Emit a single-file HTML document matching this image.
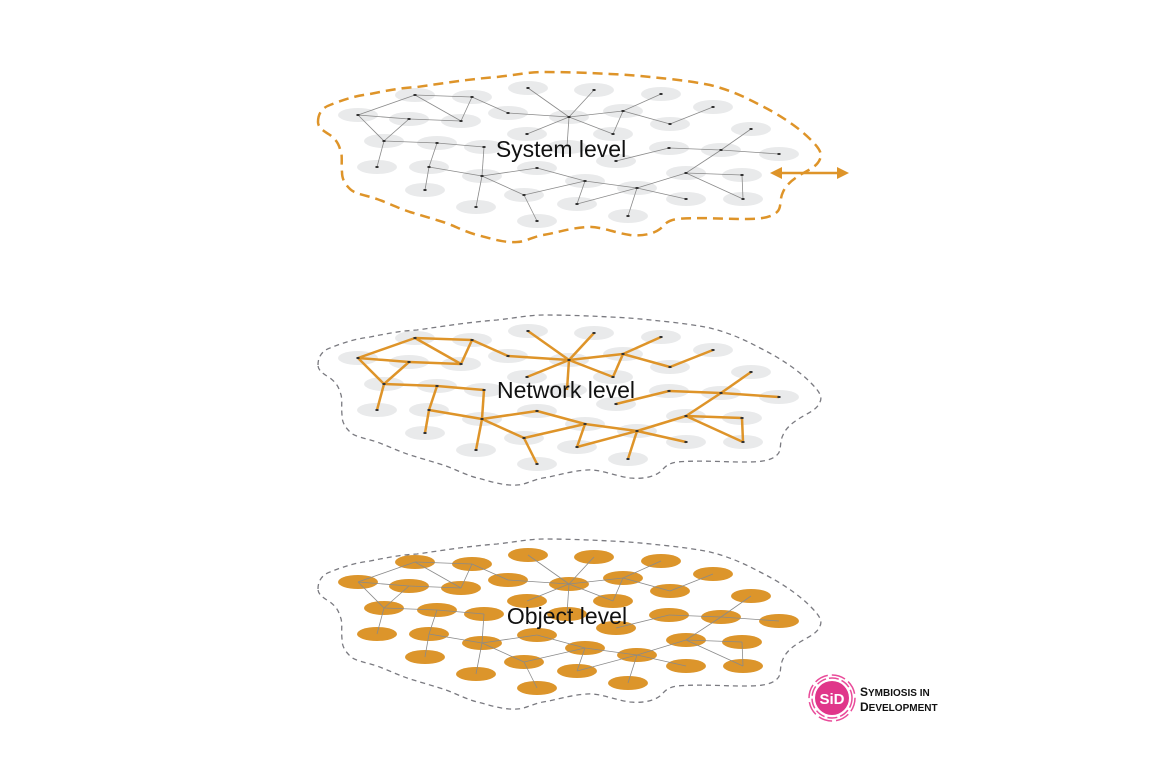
<!DOCTYPE html>
<html><head><meta charset="utf-8"><style>
html,body{margin:0;padding:0;background:#fff;}
svg{display:block;}
text{font-family:"Liberation Sans",sans-serif;}
</style></head><body>
<svg width="1170" height="780" viewBox="0 0 1170 780" xmlns="http://www.w3.org/2000/svg">
<defs>
<path id="O" d="M318,365 C318,355 324,350 330,348 C345,342 355,339 370,337 C390,333 400,331 417,330 C445,326 470,322 497,320 C515,318 530,315 543,315 C570,315 590,316 610,317 C635,318 650,320 670,322 C688,324 700,326 710,328 C730,333 745,340 760,348 C780,358 798,370 810,382 C818,390 823,396 820,402 C817,410 808,413 800,418 C792,423 786,428 783,435 C779,443 782,451 777,455 C770,462 755,462 743,462 C720,462 700,460 677,462 C665,464 664,469 660,472 C652,478 640,479 630,478 C615,476 600,469 587,470 C570,471 556,476 543,478 C532,480 525,485 517,485 C503,486 490,481 477,478 C463,474 453,468 443,465 C430,461 420,458 410,455 C398,451 388,446 377,442 C365,438 355,437 350,432 C343,425 342,420 342,415 C341,405 343,398 340,392 C338,385 335,382 330,378 C322,373 318,370 318,365 Z"/>
<g id="E">
<line x1="358" y1="358" x2="415" y2="338"/><line x1="415" y1="338" x2="472" y2="340"/><line x1="415" y1="338" x2="461" y2="364"/><line x1="472" y1="340" x2="461" y2="364"/><line x1="472" y1="340" x2="508" y2="356"/>
<line x1="358" y1="358" x2="409" y2="362"/><line x1="409" y1="362" x2="461" y2="364"/><line x1="358" y1="358" x2="384" y2="384"/><line x1="409" y1="362" x2="384" y2="384"/>
<line x1="508" y1="356" x2="569" y2="360"/><line x1="528" y1="331" x2="569" y2="360"/><line x1="594" y1="333" x2="569" y2="360"/><line x1="569" y1="360" x2="623" y2="354"/><line x1="569" y1="360" x2="527" y2="377"/><line x1="569" y1="360" x2="613" y2="377"/><line x1="569" y1="360" x2="567" y2="390"/>
<line x1="623" y1="354" x2="661" y2="337"/><line x1="623" y1="354" x2="613" y2="377"/><line x1="623" y1="354" x2="670" y2="367"/><line x1="670" y1="367" x2="713" y2="350"/>
<line x1="384" y1="384" x2="437" y2="386"/><line x1="437" y1="386" x2="484" y2="390"/><line x1="437" y1="386" x2="429" y2="410"/><line x1="384" y1="384" x2="377" y2="410"/>
<line x1="484" y1="390" x2="482" y2="419"/><line x1="429" y1="410" x2="482" y2="419"/><line x1="429" y1="410" x2="425" y2="433"/>
<line x1="482" y1="419" x2="537" y2="411"/><line x1="482" y1="419" x2="524" y2="438"/><line x1="482" y1="419" x2="476" y2="450"/>
<line x1="537" y1="411" x2="585" y2="424"/><line x1="524" y1="438" x2="585" y2="424"/><line x1="524" y1="438" x2="537" y2="464"/>
<line x1="585" y1="424" x2="637" y2="431"/><line x1="585" y1="424" x2="577" y2="447"/><line x1="577" y1="447" x2="637" y2="431"/><line x1="637" y1="431" x2="628" y2="459"/><line x1="637" y1="431" x2="686" y2="442"/><line x1="637" y1="431" x2="686" y2="416"/>
<line x1="686" y1="416" x2="721" y2="393"/><line x1="686" y1="416" x2="742" y2="418"/><line x1="686" y1="416" x2="743" y2="442"/><line x1="742" y1="418" x2="743" y2="442"/>
<line x1="721" y1="393" x2="751" y2="372"/><line x1="721" y1="393" x2="779" y2="397"/><line x1="669" y1="391" x2="721" y2="393"/><line x1="616" y1="404" x2="669" y2="391"/>
</g>
<g id="N">
<ellipse cx="415" cy="338" rx="20" ry="7"/><ellipse cx="472" cy="340" rx="20" ry="7"/><ellipse cx="358" cy="358" rx="20" ry="7"/><ellipse cx="409" cy="362" rx="20" ry="7"/><ellipse cx="461" cy="364" rx="20" ry="7"/><ellipse cx="508" cy="356" rx="20" ry="7"/><ellipse cx="528" cy="331" rx="20" ry="7"/><ellipse cx="594" cy="333" rx="20" ry="7"/><ellipse cx="569" cy="360" rx="20" ry="7"/><ellipse cx="623" cy="354" rx="20" ry="7"/><ellipse cx="661" cy="337" rx="20" ry="7"/><ellipse cx="713" cy="350" rx="20" ry="7"/><ellipse cx="670" cy="367" rx="20" ry="7"/><ellipse cx="527" cy="377" rx="20" ry="7"/><ellipse cx="613" cy="377" rx="20" ry="7"/><ellipse cx="384" cy="384" rx="20" ry="7"/><ellipse cx="437" cy="386" rx="20" ry="7"/><ellipse cx="484" cy="390" rx="20" ry="7"/><ellipse cx="567" cy="390" rx="20" ry="7"/><ellipse cx="616" cy="404" rx="20" ry="7"/><ellipse cx="669" cy="391" rx="20" ry="7"/><ellipse cx="721" cy="393" rx="20" ry="7"/><ellipse cx="751" cy="372" rx="20" ry="7"/><ellipse cx="779" cy="397" rx="20" ry="7"/><ellipse cx="377" cy="410" rx="20" ry="7"/><ellipse cx="429" cy="410" rx="20" ry="7"/><ellipse cx="482" cy="419" rx="20" ry="7"/><ellipse cx="537" cy="411" rx="20" ry="7"/><ellipse cx="585" cy="424" rx="20" ry="7"/><ellipse cx="637" cy="431" rx="20" ry="7"/><ellipse cx="686" cy="416" rx="20" ry="7"/><ellipse cx="742" cy="418" rx="20" ry="7"/><ellipse cx="425" cy="433" rx="20" ry="7"/><ellipse cx="524" cy="438" rx="20" ry="7"/><ellipse cx="686" cy="442" rx="20" ry="7"/><ellipse cx="743" cy="442" rx="20" ry="7"/><ellipse cx="476" cy="450" rx="20" ry="7"/><ellipse cx="577" cy="447" rx="20" ry="7"/><ellipse cx="628" cy="459" rx="20" ry="7"/><ellipse cx="537" cy="464" rx="20" ry="7"/>
</g>
<g id="D">
<rect x="413.5" y="337" width="3" height="2"/><rect x="470.5" y="339" width="3" height="2"/><rect x="356.5" y="357" width="3" height="2"/><rect x="407.5" y="361" width="3" height="2"/><rect x="459.5" y="363" width="3" height="2"/><rect x="506.5" y="355" width="3" height="2"/><rect x="526.5" y="330" width="3" height="2"/><rect x="592.5" y="332" width="3" height="2"/><rect x="567.5" y="359" width="3" height="2"/><rect x="621.5" y="353" width="3" height="2"/><rect x="659.5" y="336" width="3" height="2"/><rect x="711.5" y="349" width="3" height="2"/><rect x="668.5" y="366" width="3" height="2"/><rect x="525.5" y="376" width="3" height="2"/><rect x="611.5" y="376" width="3" height="2"/><rect x="382.5" y="383" width="3" height="2"/><rect x="435.5" y="385" width="3" height="2"/><rect x="482.5" y="389" width="3" height="2"/><rect x="614.5" y="403" width="3" height="2"/><rect x="667.5" y="390" width="3" height="2"/><rect x="719.5" y="392" width="3" height="2"/><rect x="749.5" y="371" width="3" height="2"/><rect x="777.5" y="396" width="3" height="2"/><rect x="375.5" y="409" width="3" height="2"/><rect x="427.5" y="409" width="3" height="2"/><rect x="480.5" y="418" width="3" height="2"/><rect x="535.5" y="410" width="3" height="2"/><rect x="583.5" y="423" width="3" height="2"/><rect x="635.5" y="430" width="3" height="2"/><rect x="684.5" y="415" width="3" height="2"/><rect x="740.5" y="417" width="3" height="2"/><rect x="423.5" y="432" width="3" height="2"/><rect x="522.5" y="437" width="3" height="2"/><rect x="684.5" y="441" width="3" height="2"/><rect x="741.5" y="441" width="3" height="2"/><rect x="474.5" y="449" width="3" height="2"/><rect x="575.5" y="446" width="3" height="2"/><rect x="626.5" y="458" width="3" height="2"/><rect x="535.5" y="463" width="3" height="2"/>
</g>
</defs>

<g transform="translate(0,-243)">
<use href="#N" fill="#e9eaeb"/>
<use href="#E" stroke="#8a8a8a" stroke-width="0.8"/>
<use href="#D" fill="#333"/>
<use href="#O" fill="none" stroke="#de9429" stroke-width="2.5" stroke-dasharray="10,6"/>
</g>
<text x="561" y="157" font-size="23" text-anchor="middle" fill="#111">System level</text>
<line x1="778" y1="173" x2="840" y2="173" stroke="#de9429" stroke-width="2.5"/>
<polygon points="770,173 782,167 782,179" fill="#de9429"/>
<polygon points="849,173 837,167 837,179" fill="#de9429"/>

<use href="#N" fill="#e9eaeb"/>
<use href="#E" stroke="#de9429" stroke-width="2.5"/>
<use href="#D" fill="#333"/>
<use href="#O" fill="none" stroke="#7a7a80" stroke-width="1.3" stroke-dasharray="5,4"/>
<text x="566" y="398" font-size="23" text-anchor="middle" fill="#111">Network level</text>

<g transform="translate(0,224)">
<use href="#N" fill="#dc952b"/>
<use href="#E" stroke="#8a8a8a" stroke-width="0.8"/>
<use href="#O" fill="none" stroke="#7a7a80" stroke-width="1.3" stroke-dasharray="5,4"/>
</g>
<text x="567" y="624" font-size="23" text-anchor="middle" fill="#111">Object level</text>

<circle cx="832" cy="698" r="23" fill="none" stroke="#e94b9a" stroke-width="1.5" stroke-dasharray="14,4"/>
<circle cx="832" cy="698" r="20" fill="none" stroke="#e94b9a" stroke-width="1.5" stroke-dasharray="10,3"/>
<circle cx="832" cy="698" r="17" fill="#e0368a"/>
<text x="832" y="704" font-size="15" font-weight="bold" text-anchor="middle" fill="#fff">SiD</text>
<text x="860" y="696" font-size="12" font-weight="bold" fill="#111">S<tspan font-size="10">YMBIOSIS IN</tspan></text>
<text x="860" y="711" font-size="12" font-weight="bold" fill="#111">D<tspan font-size="10">EVELOPMENT</tspan></text>
</svg>
</body></html>
